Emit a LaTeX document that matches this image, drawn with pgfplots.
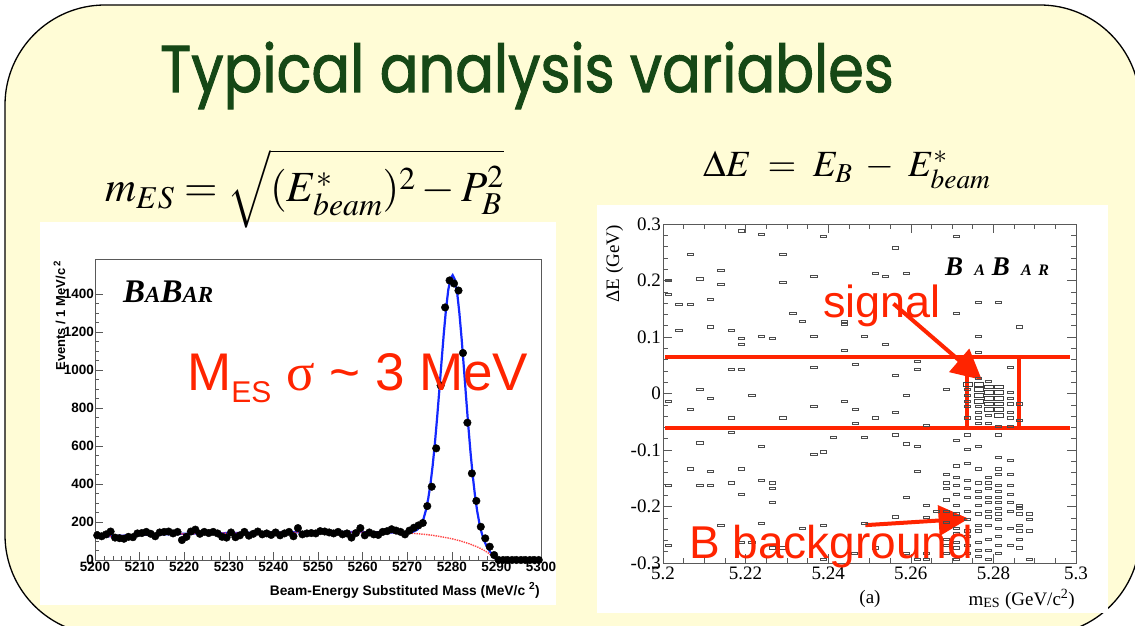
\documentclass[border=0pt]{standalone}
\usepackage{mathptmx}
\usepackage{fontspec}
\setmainfont{Liberation Serif}
\setsansfont{Liberation Sans}
\newfontfamily\titlefont[FakeBold=1.6]{Poppins}
\usepackage{pgfplots}
\pgfplotsset{compat=1.18}
\usetikzlibrary{arrows.meta}
\definecolor{bg}{RGB}{255,252,214}
\definecolor{titlegreen}{RGB}{22,72,22}
\definecolor{annred}{RGB}{255,36,0}
\definecolor{fitblue}{RGB}{20,40,255}
\definecolor{bkgred}{RGB}{255,70,70}

\begin{document}
\begin{tikzpicture}
\useasboundingbox (0pt,0pt) rectangle (1135pt,625pt);
\clip (0pt,0pt) rectangle (1135pt,625pt);
\fill[white] (0pt,0pt) rectangle (1135pt,625pt);
\draw[fill=bg, line width=1.3pt, rounded corners=100pt] (5pt,620pt) rectangle (1140pt,-10pt);
\fill[white] (40pt,20pt) rectangle (556pt,403pt);
\fill[white] (597pt,12pt) rectangle (1108pt,420pt);

% title and formulas
\node[anchor=base west, inner sep=0, text=titlegreen] at (160pt,533pt)
  {\scalebox{0.87}[1]{\fontsize{66}{66}\titlefont Typical analysis variables}};
\node[anchor=base west, inner sep=0] at (105pt,423pt)
  {\fontsize{43}{43}\selectfont $m_{ES} = \sqrt{(E^{*}_{beam})^{2} - P_{B}^{2}}$};
\node[anchor=base west, inner sep=0] at (703pt,448pt)
  {\fontsize{37}{37}\selectfont $\Delta E \;=\; E_{B} \;-\; E^{*}_{beam}$};

% ---------------- left plot ----------------
\begin{axis}[
  at={(95pt,65pt)}, anchor=south west, scale only axis,
  width=446pt, height=301pt,
  xmin=5200, xmax=5300, ymin=0, ymax=1585,
  xtick={5200,5210,...,5300}, ytick={0,200,...,1400},
  minor x tick num=4, minor y tick num=3,
  xtick pos=bottom, ytick pos=left, tick align=inside,
  major tick length=8pt, minor tick length=4pt,
  axis line style={black!65, line width=0.6pt},
  tick style={black!65, line width=0.6pt},
  ticklabel style={font=\fontsize{13.5}{14}\sffamily\bfseries},
  /pgf/number format/assume math mode=true,
  /pgf/number format/set thousands separator={},
  scaled ticks=false,
  yticklabel style={inner sep=1pt},
  xticklabel style={inner sep=2pt},
]
\addplot[fitblue, line width=2.2pt] coordinates {
(5200,122) (5210,132) (5220,138) (5230,142) (5240,145) (5250,147) (5260,147)
(5265,146) (5268,144) (5270.2,144) (5271.2,147) (5272.2,159) (5272.7,172)
(5273.2,191) (5273.7,220) (5274.2,263) (5274.7,321) (5275.2,397) (5275.7,495)
(5276.2,612) (5276.7,747) (5277.2,893) (5277.7,1045) (5278.2,1191) (5278.7,1320)
(5279.2,1421) (5279.7,1482) (5280.2,1500) (5280.7,1476) (5281.2,1408) (5281.7,1300)
(5282.2,1166) (5282.7,1015) (5283.2,858) (5283.7,706) (5284.2,566) (5284.7,443)
(5285.2,339) (5285.7,256) (5286.2,192) (5286.7,142) (5287.2,106) (5287.7,78)
(5288.2,57) (5288.7,40) (5289.2,25) (5289.7,10) (5290,0) (5300,0)
};
\addplot[bkgred, line width=1.4pt, densely dotted] coordinates {
(5200,122) (5210,132) (5220,138) (5230,142) (5240,145) (5250,147) (5260,147)
(5265,146) (5270,142) (5272,139) (5274,135) (5276,129) (5278,121) (5280,112)
(5282,100) (5284,85) (5286,66) (5287,54) (5288,40) (5289,22) (5289.5,10)
(5290,0) (5300,0)
};
\addplot[only marks, mark=*, mark size=3.8pt, black] coordinates {
(5200.5,130) (5201.5,125) (5202.5,135) (5203.5,150) (5204.5,118) (5205.5,115)
(5206.5,112) (5207.5,122) (5208.5,120) (5209.5,140) (5210.5,142) (5211.5,148)
(5212.5,138) (5213.5,125) (5214.5,145) (5215.5,148) (5216.5,150) (5217.5,140)
(5218.5,148) (5219.5,105) (5220.5,122) (5221.5,150) (5222.5,160) (5223.5,138)
(5224.5,148) (5225.5,142) (5226.5,148) (5227.5,140) (5228.5,122) (5229.5,118)
(5230.5,145) (5231.5,120) (5232.5,130) (5233.5,148) (5234.5,128) (5235.5,138)
(5236.5,150) (5237.5,135) (5238.5,140) (5239.5,132) (5240.5,145) (5241.5,130)
(5242.5,140) (5243.5,148) (5244.5,125) (5245.5,168) (5246.5,135) (5247.5,140)
(5248.5,142) (5249.5,140) (5250.5,152) (5251.5,150) (5252.5,145) (5253.5,140)
(5254.5,148) (5255.5,135) (5256.5,140) (5257.5,118) (5258.5,142) (5259.5,168)
(5260.5,130) (5261.5,145) (5262.5,135) (5263.5,132) (5264.5,148) (5265.5,152)
(5266.5,162) (5267.5,155) (5268.5,148) (5269.5,135) (5270.5,155) (5271.5,170)
(5272.5,182) (5273.5,195) (5274.5,284) (5275.5,386) (5276.5,588) (5277.5,919)
(5278.5,1330) (5279.5,1472) (5280.5,1456) (5281.5,1419) (5282.5,1090) (5283.5,723)
(5284.5,456) (5285.5,311) (5286.5,175) (5287.5,114) (5288.5,70) (5289.5,26)
(5290.5,0) (5291.5,0) (5292.5,0) (5293.5,0) (5294.5,0) (5295.5,0) (5296.5,0)
(5297.5,0) (5298.5,0) (5299.5,0)
};
\end{axis}

% ---------------- right plot ----------------
\begin{axis}[
  at={(663pt,62pt)}, anchor=south west, scale only axis,
  width=413pt, height=339pt,
  xmin=5.2, xmax=5.3, ymin=-0.3, ymax=0.3,
  xtick={5.2,5.22,5.24,5.26,5.28,5.3},
  xticklabels={5.2,5.22,5.24,5.26,5.28,5.3},
  ytick={-0.3,-0.2,-0.1,0,0.1,0.2,0.3},
  yticklabels={-0.3,-0.2,-0.1,0,0.1,0.2,0.3},
  minor x tick num=3, minor y tick num=4,
  tick align=inside, major tick length=9pt, minor tick length=5pt,
  axis line style={black!65, line width=0.6pt},
  tick style={black!65, line width=0.6pt},
  ticklabel style={font=\fontsize{19}{19}\selectfont},
  yticklabel style={inner sep=2pt},
]
\addplot[only marks, mark=square, mark size=1.1pt,
  mark options={xscale=2.8, draw=black!70, line width=0.5pt}] coordinates {
(5.2012,0.201) (5.2012,0.175) (5.2038,0.158) (5.2038,0.112) (5.2065,0.158)
(5.2065,0.247) (5.2089,0.203) (5.214,0.218) (5.214,0.193) (5.2115,0.167)
(5.2115,0.118) (5.2189,0.288) (5.2238,0.282) (5.2389,0.278) (5.229,0.247)
(5.229,0.197) (5.2365,0.207) (5.2314,0.142) (5.2338,0.128) (5.2439,0.128)
(5.2439,0.123) (5.2365,0.102) (5.2238,0.102) (5.2264,0.098) (5.2165,0.112)
(5.2189,0.098) (5.2189,0.087) (5.2439,0.077) (5.2488,0.102) (5.2538,0.087)
(5.2513,0.213) (5.2538,0.207) (5.2589,0.213) (5.2562,0.258) (5.2711,0.278)
(5.2711,0.142) (5.2764,0.162) (5.2812,0.162) (5.2764,0.102) (5.2862,0.118)
(5.2764,0.073) (5.284,0.047) (5.2615,0.057) (5.2615,0.043) (5.2562,0.032)
(5.2465,0.052) (5.2365,0.047) (5.2165,0.043) (5.2189,0.043) (5.2089,0.007)
(5.2215,-0.003) (5.2012,-0.013) (5.2115,-0.008) (5.2065,-0.028) (5.2165,-0.043)
(5.2165,-0.068) (5.229,-0.043) (5.2365,-0.023) (5.2439,-0.013) (5.2465,-0.028)
(5.2465,-0.052) (5.2513,-0.043) (5.2562,-0.033) (5.2589,-0.003) (5.2686,0.007)
(5.2637,-0.056) (5.2562,-0.073) (5.2589,-0.089) (5.2615,-0.093) (5.2412,-0.078)
(5.2488,-0.078) (5.2389,-0.103) (5.2365,-0.108) (5.2238,-0.093) (5.2089,-0.087)
(5.2065,-0.133) (5.2089,-0.163) (5.2115,-0.163) (5.2115,-0.138) (5.2165,-0.158)
(5.2189,-0.133) (5.2189,-0.178) (5.2238,-0.153) (5.2264,-0.158) (5.2264,-0.168)
(5.2264,-0.193) (5.2012,-0.163) (5.2238,-0.229) (5.214,-0.233) (5.2338,-0.238)
(5.2389,-0.233) (5.2488,-0.229) (5.2562,-0.218) (5.2589,-0.183) (5.2615,-0.138)
(5.2637,-0.198) (5.2637,-0.219) (5.2661,-0.208) (5.2012,-0.268) (5.2189,-0.263)
(5.2215,-0.263) (5.2264,-0.273) (5.229,-0.273) (5.2389,-0.294) (5.2464,-0.283)
(5.2513,-0.273) (5.2589,-0.283) (5.2615,-0.294) (5.2637,-0.283) (5.2637,-0.294)
(5.2686,-0.143) (5.2686,-0.158) (5.2686,-0.168) (5.2686,-0.188) (5.2686,-0.208)
(5.2686,-0.228) (5.2686,-0.258) (5.2686,-0.268) (5.2686,-0.283)
(5.2711,-0.083) (5.2711,-0.128) (5.2711,-0.148) (5.2711,-0.163) (5.2711,-0.178)
(5.2711,-0.198) (5.2711,-0.213) (5.2711,-0.238) (5.2711,-0.248) (5.2711,-0.263)
(5.2711,-0.273) (5.2711,-0.293)
(5.2737,-0.073) (5.2737,-0.098) (5.2737,-0.123) (5.2737,-0.153) (5.2737,-0.168)
(5.2737,-0.183) (5.2737,-0.208) (5.2737,-0.223) (5.2737,-0.243) (5.2737,-0.253)
(5.2737,-0.268) (5.2737,-0.283)
(5.2764,-0.093) (5.2764,-0.133) (5.2764,-0.158) (5.2764,-0.173) (5.2764,-0.183)
(5.2764,-0.198) (5.2764,-0.213) (5.2764,-0.233) (5.2764,-0.243) (5.2764,-0.263)
(5.2764,-0.278) (5.2764,-0.288)
(5.2788,-0.148) (5.2788,-0.158) (5.2788,-0.168) (5.2788,-0.183) (5.2788,-0.193)
(5.2788,-0.208) (5.2788,-0.218) (5.2788,-0.233) (5.2788,-0.258) (5.2788,-0.278)
(5.2788,-0.293)
(5.2812,-0.113) (5.2812,-0.133) (5.2812,-0.143) (5.2812,-0.163) (5.2812,-0.173)
(5.2812,-0.183) (5.2812,-0.193) (5.2812,-0.203) (5.2812,-0.213) (5.2812,-0.223)
(5.2812,-0.238) (5.2812,-0.253) (5.2812,-0.268) (5.2812,-0.283)
(5.284,-0.118) (5.284,-0.143) (5.284,-0.163) (5.284,-0.178) (5.284,-0.193)
(5.284,-0.208) (5.284,-0.238) (5.284,-0.268)
(5.2862,-0.198) (5.2862,-0.203) (5.2862,-0.213) (5.2862,-0.233) (5.2862,-0.243)
(5.2862,-0.258) (5.2862,-0.273)
(5.2887,-0.213) (5.2887,-0.223) (5.2887,-0.243) (5.2887,-0.293)
(5.2737,0.007) (5.2737,-0.003) (5.2737,-0.013) (5.2737,-0.023) (5.2737,-0.043)
(5.2764,0.027) (5.2764,-0.023) (5.2764,-0.033) (5.2764,-0.043) (5.2764,-0.053)
(5.2788,0.022) (5.2788,-0.038) (5.2788,-0.053) (5.2812,-0.058) (5.2812,-0.073)
(5.284,0.002) (5.284,-0.008) (5.284,-0.018) (5.284,-0.033) (5.284,-0.043)
(5.284,-0.058) (5.2862,-0.018) (5.2862,-0.048)
};
\addplot[only marks, mark=square, mark size=1.9pt,
  mark options={xscale=2.4, draw=black!75, line width=0.5pt}] coordinates {
(5.2737,0.017) (5.2764,0.017) (5.2764,0.007) (5.2764,-0.003) (5.2764,-0.013)
(5.2788,0.012) (5.2788,0.002) (5.2788,-0.008) (5.2788,-0.018) (5.2788,-0.028)
(5.2812,0.012) (5.2812,0.002) (5.2812,-0.008) (5.2812,-0.018) (5.2812,-0.028)
(5.2812,-0.038)
};
\draw[annred, line width=4pt] (axis cs:5.2006,0.065) -- (axis cs:5.2985,0.065);
\draw[annred, line width=4pt] (axis cs:5.2006,-0.0605) -- (axis cs:5.2985,-0.0605);
\draw[annred, line width=4pt] (axis cs:5.2737,-0.0605) -- (axis cs:5.2737,0.065);
\draw[annred, line width=4pt] (axis cs:5.2862,-0.0605) -- (axis cs:5.2862,0.065);
\draw[annred, line width=4pt, -{Triangle[length=30pt,width=30pt]}]
  (axis cs:5.2558,0.159) -- (axis cs:5.2772,0.024);
\draw[annred, line width=4pt, -{Triangle[length=30pt,width=30pt]}]
  (axis cs:5.249,-0.233) -- (axis cs:5.274,-0.2215);
\end{axis}

% left plot texts
\node[anchor=base west, inner sep=0] at (123pt,323pt)
  {\fontsize{33}{33}\selectfont\bfseries\itshape B\fontsize{23}{23}\selectfont A\fontsize{33}{33}\selectfont B\fontsize{23}{23}\selectfont AR};
\node[rotate=90, anchor=base east, inner sep=0] at (65pt,365pt)
  {\fontsize{13}{13}\sffamily\bfseries Events / 1 MeV/c\textsuperscript{ 2}};
\node[anchor=base east, inner sep=0] at (540pt,30pt)
  {\fontsize{13.8}{13.8}\sffamily\bfseries Beam-Energy Substituted Mass (MeV/c \textsuperscript{2})};
\node[anchor=base west, inner sep=0, text=annred] at (187pt,235pt)
  {\fontsize{53}{53}\sffamily M\raisebox{-12pt}{\fontsize{30}{30}\selectfont ES} {\rmfamily σ} \textasciitilde{} 3 MeV};

% right plot texts
\node[anchor=base west, inner sep=0] at (945pt,350pt)
  {\bfseries\itshape\fontsize{27}{27}\selectfont B\, \fontsize{16}{16}\selectfont A\, \fontsize{27}{27}\selectfont B\, \fontsize{16}{16}\selectfont A\, R};
\node[rotate=90, anchor=base east, inner sep=0] at (619pt,400pt)
  {\fontsize{19}{19}\selectfont ΔE (GeV)};
\node[anchor=base east, inner sep=0] at (1075pt,20pt)
  {\fontsize{19}{19}\selectfont m\textsubscript{ES} (GeV/c\textsuperscript{2})};
\node[anchor=base, inner sep=0] at (870pt,22pt)
  {\fontsize{19}{19}\selectfont (a)};
\node[anchor=base west, inner sep=0, text=annred] at (823pt,308pt)
  {\fontsize{45}{45}\sffamily signal};
\node[anchor=base west, inner sep=0, text=annred] at (689pt,67pt)
  {\fontsize{46}{46}\sffamily B background};
\end{tikzpicture}
\end{document}
